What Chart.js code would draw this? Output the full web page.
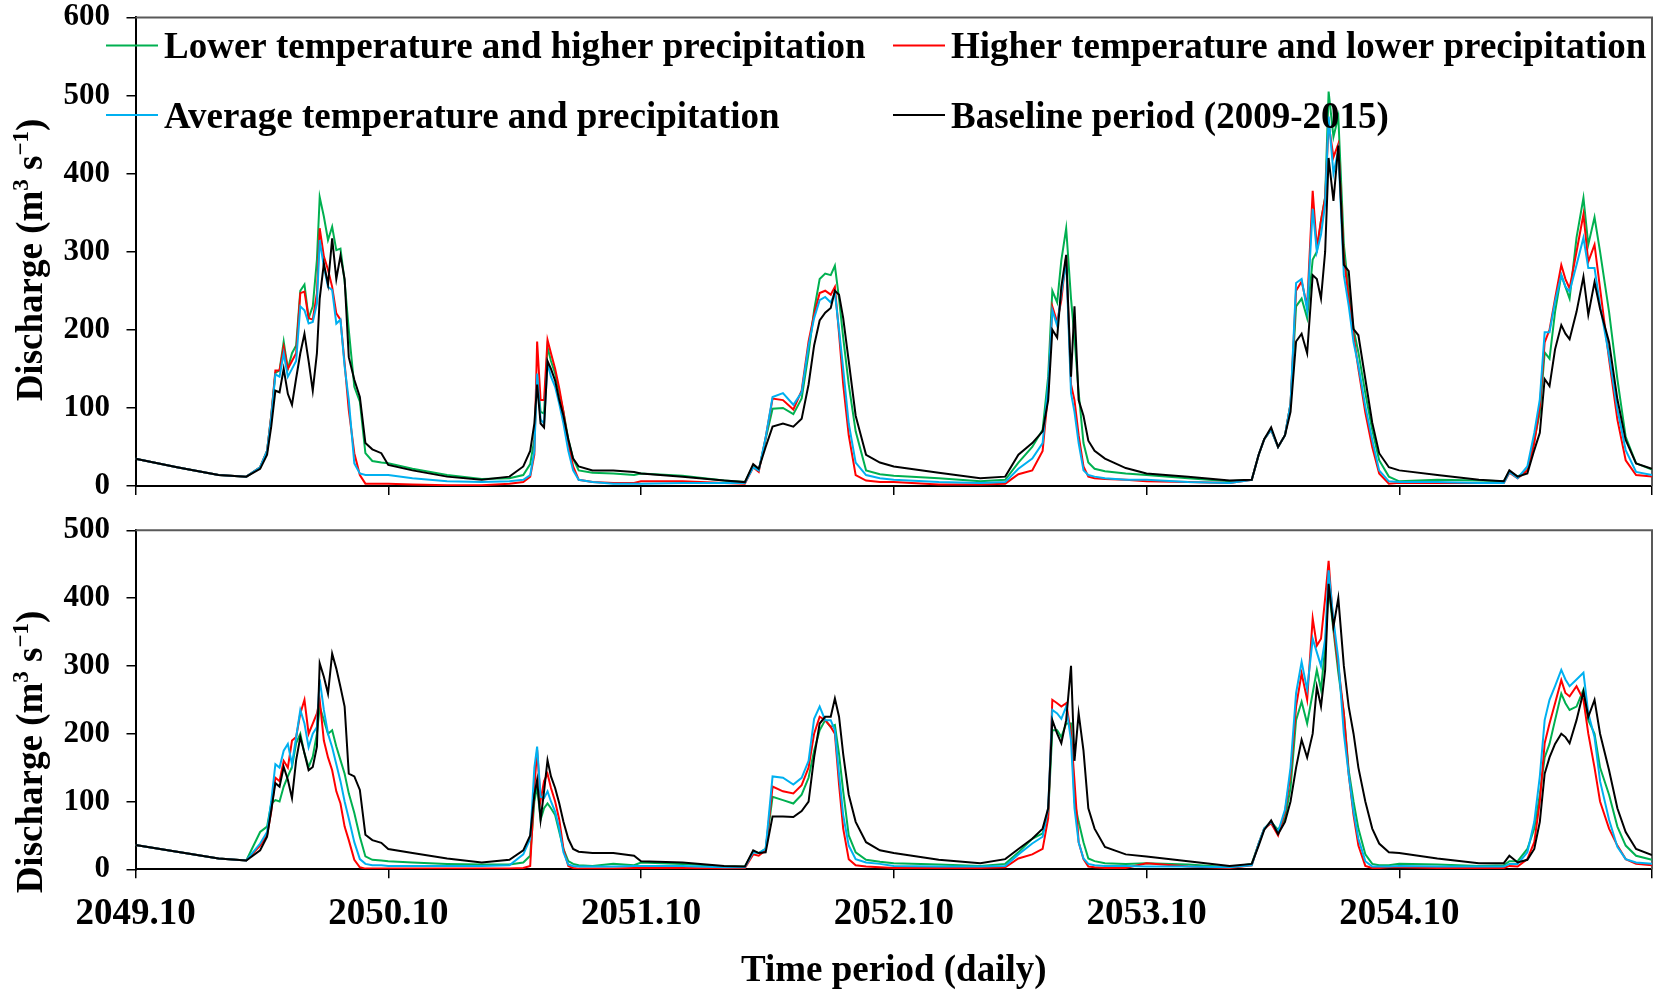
<!DOCTYPE html>
<html>
<head>
<meta charset="utf-8">
<script src="https://cdn.jsdelivr.net/npm/chart.js@4.4.0/dist/chart.umd.min.js"></script>
<style>
  body { margin: 0; background: #fff; }
  #wrap { position: relative; width: 1658px; height: 991px; }
  canvas { position: absolute; left: 0; }
  #top { top: 0; }
  #bottom { top: 500px; }
</style>
</head>
<body>
<div id="wrap">
  <canvas id="top" width="1658" height="500"></canvas>
  <canvas id="bottom" width="1658" height="491"></canvas>
</div>
<script>
/*
Data: day number counted from 2049.10, one line per hydrological year
*/
const days = [
  0, 60, 120, 160, 180, 190, 196, 202, 208, 214, 220, 226, 232, 238, 244, 250, 256, 262, 266, 272, 278, 284, 290, 296, 302, 308, 316, 324, 332, 342, 355,
  365, 400, 450, 500, 540, 560, 570, 576, 580, 585, 590, 595, 600, 606, 612, 618, 625, 632, 640, 660, 690, 720,
  730, 790, 850, 880, 892, 900, 910, 920, 935, 950, 962, 972, 980, 988, 996, 1004, 1010, 1016, 1022, 1030, 1040, 1055, 1075,
  1095, 1160, 1220, 1256, 1275, 1295, 1310, 1318, 1324, 1331, 1337, 1344, 1351, 1356, 1362, 1369, 1376, 1385, 1400, 1430,
  1460, 1520, 1580, 1612, 1622, 1630, 1640, 1650, 1660, 1668, 1676, 1684, 1692, 1700, 1706, 1712, 1718, 1723, 1730, 1737, 1745, 1752, 1759, 1766, 1776, 1786, 1796, 1810,
  1825, 1880, 1940, 1976, 1984, 1996, 2010, 2020, 2028, 2035, 2042, 2050, 2059, 2065, 2071, 2081, 2091, 2098, 2107, 2115, 2128, 2140, 2152, 2167, 2190
];

const tickDays = [0, 365, 730, 1095, 1460, 1825, 2190];
const yearLabels = ["2049.10", "2050.10", "2051.10", "2052.10", "2053.10", "2054.10", ""];

const seriesNames = [
  "Lower temperature and higher precipitation",
  "Higher temperature and lower precipitation",
  "Average temperature and precipitation",
  "Baseline period (2009-2015)"
];

/* upper panel */
const topGreen = [
  35, 24, 14, 12, 24, 45, 90, 145, 148, 185, 150, 170, 180, 250, 258, 215, 230, 290, 370, 345, 315, 332, 302, 304, 262, 200, 127, 108, 42, 32, 30,
  29, 22, 14, 9, 10, 14, 28, 60, 140, 95, 93, 178, 160, 144, 120, 95, 60, 35, 20, 17, 16, 14,
  16, 13, 7, 5, 26, 20, 60, 99, 100, 92, 112, 170, 225, 265, 272, 270, 282, 240, 190, 130, 70, 20, 15,
  13, 10, 6, 8, 30, 50, 72, 140, 250, 235, 289, 330, 240, 190, 120, 55, 30, 22, 19, 16,
  14, 10, 6, 8, 40, 60, 72, 50, 65, 105, 230, 240, 215, 290, 300, 340, 370, 505, 447, 473, 309, 249, 201, 171, 119, 72, 33, 12,
  6, 8, 7, 6, 18, 12, 20, 59, 94, 171, 163, 223, 270, 255, 240, 318, 369, 309, 344, 300, 223, 137, 63, 29, 21
];
const topRed = [
  35, 24, 14, 12, 24, 45, 90, 148, 148, 178, 150, 160, 170, 247, 249, 215, 213, 247, 330, 294, 277, 255, 221, 213, 157, 97, 42, 14, 3, 3, 3,
  3, 2, 1, 1, 3, 5, 12, 40, 185, 110, 110, 187, 170, 150, 125, 95, 55, 25, 8, 5, 4, 4,
  6, 6, 4, 3, 24, 18, 62, 112, 110, 98, 122, 185, 220, 247, 250, 245, 255, 195, 130, 65, 14, 7, 5,
  5, 2, 2, 3, 15, 20, 45, 120, 230, 210, 238, 294, 130, 110, 65, 25, 12, 10, 9, 8,
  6, 5, 4, 8, 40, 60, 72, 50, 65, 105, 250, 262, 230, 378, 305, 340, 369, 464, 421, 438, 292, 240, 193, 150, 94, 50, 16, 3,
  4, 4, 4, 4, 17, 10, 20, 55, 102, 184, 200, 240, 283, 265, 253, 300, 348, 287, 309, 253, 162, 85, 33, 14, 12
];
const topBlue = [
  35, 24, 14, 12, 24, 45, 88, 143, 140, 170, 140, 150, 160, 230, 225, 208, 210, 234, 315, 281, 255, 251, 208, 213, 153, 110, 29, 16, 14, 14, 14,
  14, 10, 6, 5, 6, 8, 14, 45, 144, 85, 80, 157, 140, 127, 105, 80, 45, 20, 8, 5, 3, 3,
  3, 4, 4, 4, 24, 20, 62, 114, 119, 104, 120, 180, 215, 238, 242, 235, 247, 200, 150, 80, 30, 14, 10,
  8, 5, 4, 5, 22, 35, 55, 130, 225, 205, 247, 289, 119, 95, 55, 20, 14, 12, 10, 8,
  8, 5, 4, 8, 40, 60, 72, 50, 65, 105, 260, 265, 225, 355, 300, 322, 361, 473, 400, 430, 270, 231, 184, 154, 102, 59, 20, 6,
  5, 5, 4, 4, 18, 10, 25, 68, 111, 197, 197, 236, 270, 255, 249, 283, 318, 279, 279, 231, 167, 98, 46, 18, 14
];
const topBlack = [
  35, 24, 14, 12, 22, 40, 76, 122, 120, 150, 118, 104, 138, 170, 195, 160, 122, 170, 240, 285, 258, 317, 265, 295, 265, 165, 136, 114, 55, 47, 42,
  27, 20, 12, 8, 12, 25, 45, 80, 130, 80, 75, 160, 150, 135, 110, 90, 60, 35, 25, 20, 20, 18,
  16, 12, 7, 5, 28, 22, 50, 76, 80, 76, 86, 130, 180, 212, 222, 228, 250, 245, 215, 160, 90, 40, 30,
  25, 17, 10, 12, 40, 55, 70, 110, 200, 190, 255, 296, 140, 230, 110, 90, 58, 45, 35, 23,
  16, 12, 7, 8, 40, 60, 75, 50, 65, 95, 185, 195, 170, 270, 265, 240, 300, 420, 365, 436, 283, 275, 201, 193, 137, 81, 42, 24,
  20, 14, 8, 6, 20, 12, 16, 46, 68, 137, 128, 175, 206, 195, 188, 223, 268, 219, 261, 227, 184, 111, 59, 29, 22
];

/* lower panel */
const botGreen = [
  36, 26, 16, 13, 55, 63, 97, 102, 100, 122, 137, 151, 186, 200, 171, 151, 166, 200, 240, 220, 200, 205, 181, 161, 141, 112, 83, 48, 19, 14, 13,
  12, 10, 8, 7, 7, 10, 20, 100, 122, 73, 90, 97, 90, 80, 55, 30, 12, 8, 6, 5, 8, 6,
  10, 8, 4, 4, 26, 24, 30, 107, 102, 97, 110, 135, 175, 205, 220, 210, 213, 170, 115, 50, 25, 14, 11,
  9, 7, 5, 8, 25, 45, 53, 80, 205, 205, 195, 215, 215, 100, 70, 40, 16, 12, 9, 8,
  9, 7, 3, 8, 38, 60, 70, 58, 75, 120, 220, 247, 215, 260, 294, 265, 328, 417, 352, 290, 230, 146, 100, 60, 22, 8, 6, 6,
  8, 7, 5, 6, 12, 12, 30, 60, 110, 165, 185, 220, 259, 245, 235, 240, 265, 220, 200, 150, 110, 63, 35, 20, 14
];
const botRed = [
  36, 26, 16, 13, 35, 50, 85, 135, 130, 160, 150, 190, 195, 230, 250, 200, 215, 230, 250, 190, 165, 146, 115, 97, 63, 43, 14, 3, 1, 1, 1,
  1, 1, 1, 1, 1, 2, 5, 120, 176, 102, 130, 141, 120, 100, 73, 30, 5, 2, 1, 1, 1, 2,
  2, 2, 1, 2, 22, 20, 28, 122, 115, 112, 124, 150, 200, 225, 220, 210, 200, 125, 60, 15, 6, 4, 3,
  2, 2, 2, 3, 16, 22, 30, 75, 250, 245, 240, 245, 200, 130, 40, 15, 4, 3, 2, 2,
  9, 4, 2, 6, 38, 60, 68, 50, 85, 140, 240, 289, 250, 370, 330, 340, 400, 455, 358, 300, 230, 140, 80, 35, 5, 2, 2, 3,
  3, 2, 2, 2, 5, 4, 15, 40, 100, 186, 215, 245, 279, 260, 255, 270, 250, 200, 150, 100, 60, 35, 15, 8, 6
];
const botBlue = [
  36, 26, 16, 13, 38, 55, 100, 155, 150, 175, 185, 155, 195, 235, 215, 180, 200, 210, 280, 235, 200, 180, 155, 130, 100, 75, 40, 15, 8, 6, 6,
  5, 5, 5, 5, 6, 22, 45, 150, 181, 107, 105, 115, 100, 85, 60, 25, 7, 5, 4, 4, 4, 5,
  5, 5, 3, 3, 25, 24, 30, 137, 135, 125, 135, 160, 222, 240, 220, 220, 205, 140, 80, 35, 15, 10, 8,
  5, 4, 4, 5, 22, 38, 48, 90, 235, 230, 222, 240, 190, 90, 40, 16, 8, 6, 5, 5,
  4, 4, 3, 6, 38, 60, 70, 55, 88, 150, 260, 306, 265, 340, 320, 300, 340, 441, 367, 310, 200, 140, 85, 45, 12, 4, 4, 4,
  5, 4, 4, 4, 8, 8, 25, 70, 137, 220, 250, 270, 294, 280, 270, 280, 290, 230, 195, 130, 73, 33, 15, 10, 8
];
const botBlack = [
  36, 26, 16, 13, 28, 48, 87, 127, 122, 151, 132, 105, 161, 195, 171, 146, 151, 181, 304, 284, 259, 318, 296, 269, 240, 141, 137, 117, 51, 43, 39,
  30, 24, 16, 10, 14, 28, 50, 110, 132, 73, 115, 161, 137, 120, 97, 70, 45, 30, 26, 24, 24, 20,
  12, 10, 5, 4, 28, 24, 25, 78, 78, 77, 86, 100, 165, 215, 225, 225, 252, 225, 170, 110, 70, 40, 28,
  24, 14, 9, 15, 30, 45, 60, 90, 220, 200, 186, 220, 300, 160, 230, 175, 90, 60, 33, 22,
  19, 12, 5, 8, 35, 58, 72, 52, 70, 100, 150, 191, 165, 200, 269, 240, 294, 421, 358, 400, 300, 240, 200, 150, 100, 60, 38, 25,
  24, 16, 9, 9, 20, 10, 14, 30, 70, 141, 165, 185, 200, 195, 186, 220, 262, 225, 250, 200, 146, 90, 55, 30, 21
];

const colors = ["#00B050", "#FF0000", "#00B0F0", "#000000"];
const FONT = '"Liberation Serif", "Times New Roman", serif';

/*
Helpers
*/
function line(label, values, color, order) {
  return {
    label: label,
    data: days.map((d, i) => ({ x: d, y: values[i] })),
    borderColor: color,
    borderWidth: 2,
    pointRadius: 0,
    tension: 0,
    fill: false,
    order: order
  };
}

function xScale(showLabels) {
  return {
    type: "linear",
    min: 0,
    max: 2190,
    afterBuildTicks: s => { s.ticks = tickDays.map(v => ({ value: v })); },
    afterFit: s => {
      s.height = showLabels ? 121.7 : 14;
      s.paddingLeft = 0; s.paddingRight = 0;
    },
    grid: { drawOnChartArea: false, drawTicks: true, tickLength: 9, color: "#000", lineWidth: 1.5 },
    border: { color: "#000", width: 2 },
    ticks: {
      display: showLabels,
      autoSkip: false,
      maxRotation: 0,
      padding: 18,
      color: "#000",
      font: { family: FONT, weight: "bold", size: 37, lineHeight: 1 },
      callback: (v, i) => yearLabels[i]
    },
    title: {
      display: showLabels,
      text: "Time period (daily)",
      color: "#000",
      font: { family: FONT, weight: "bold", size: 37, lineHeight: 1 },
      padding: { top: 0, bottom: 1 }
    }
  };
}

function yScale(max) {
  return {
    min: 0,
    max: max,
    afterFit: s => {
      s.width = 135.5;
      s.paddingTop = 0; s.paddingBottom = 0;
    },
    grid: { drawOnChartArea: false, drawTicks: true, tickLength: 9, color: "#000", lineWidth: 1.5 },
    border: { color: "#000", width: 2 },
    ticks: {
      stepSize: 100,
      padding: 16.5,
      color: "#000",
      font: { family: FONT, weight: "bold", size: 31, lineHeight: 1 }
    }
  };
}

/* top and right frame lines */
const frame = {
  id: "frame",
  beforeDatasetsDraw(chart) {
    const { ctx, chartArea: a } = chart;
    ctx.save();
    ctx.strokeStyle = "#595959";
    ctx.lineWidth = 2;
    ctx.beginPath();
    ctx.moveTo(a.left, a.top);
    ctx.lineTo(a.right, a.top);
    ctx.lineTo(a.right, a.bottom);
    ctx.stroke();
    ctx.restore();
  }
};

/* rotated y title with superscripts */
function sideTitle(cy) {
  return {
    id: "sideTitle",
    afterDraw(chart) {
      const ctx = chart.ctx;
      const runs = [["Discharge (m", 0], ["3", 1], [" s", 0], ["\u22121", 1], [")", 0]];
      const big = "bold 37px " + FONT, small = "bold 23px " + FONT;
      let total = 0;
      runs.forEach(r => { ctx.font = r[1] ? small : big; total += ctx.measureText(r[0]).width; });
      ctx.save();
      ctx.translate(42, cy);
      ctx.rotate(-Math.PI / 2);
      ctx.fillStyle = "#000";
      ctx.textBaseline = "alphabetic";
      let x = -total / 2;
      runs.forEach(r => {
        ctx.font = r[1] ? small : big;
        ctx.fillText(r[0], x, r[1] ? -14 : 0);
        x += ctx.measureText(r[0]).width;
      });
      ctx.restore();
    }
  };
}

/* legend drawn inside the upper panel */
const legendBox = {
  id: "legendBox",
  afterDraw(chart) {
    const ctx = chart.ctx;
    const spots = [[106, 45.5], [893, 45.5], [106, 115], [893, 115]];
    ctx.save();
    ctx.font = "bold 37px " + FONT;
    ctx.fillStyle = "#000";
    seriesNames.forEach((name, i) => {
      const [x, y] = spots[i];
      ctx.strokeStyle = colors[i];
      ctx.lineWidth = 2;
      ctx.beginPath();
      ctx.moveTo(x, y);
      ctx.lineTo(x + 52, y);
      ctx.stroke();
      ctx.fillText(name, x + 58, y + 12.5);
    });
    ctx.restore();
  }
};

function makeChart(id, series, yMax, showLabels, padTop, plugins) {
  return new Chart(document.getElementById(id), {
    type: "line",
    data: {
      datasets: [
        line(seriesNames[0], series[0], colors[0], 3),
        line(seriesNames[1], series[1], colors[1], 2),
        line(seriesNames[2], series[2], colors[2], 1),
        line(seriesNames[3], series[3], colors[3], 0)
      ]
    },
    options: {
      responsive: false,
      animation: false,
      events: [],
      layout: { padding: { top: padTop, right: 6, left: 0, bottom: 0 } },
      plugins: { legend: { display: false }, tooltip: { enabled: false } },
      scales: { x: xScale(showLabels), y: yScale(yMax) }
    },
    plugins: plugins
  });
}

makeChart("top", [topGreen, topRed, topBlue, topBlack], 600, false, 17.4,
  [frame, sideTitle(260), legendBox]);
makeChart("bottom", [botGreen, botRed, botBlue, botBlack], 500, true, 30.3,
  [frame, sideTitle(252)]);
</script>
</body>
</html>
